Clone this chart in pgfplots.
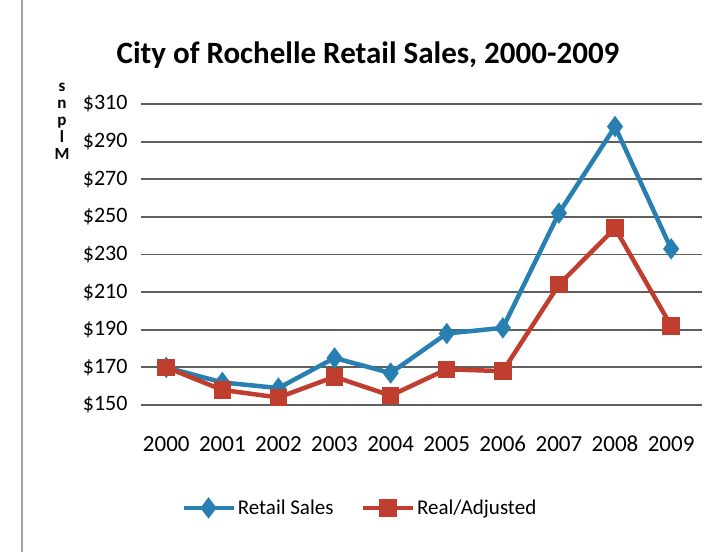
\documentclass[border=0pt]{standalone}
\usepackage{pgfplots}
\pgfplotsset{compat=1.18}
\usepackage{fontspec}
\setmainfont{Carlito}
\definecolor{rsblue}{RGB}{40,128,178}
\definecolor{rsred}{RGB}{192,62,46}
\definecolor{gridc}{RGB}{95,95,95}
\begin{document}
\begin{tikzpicture}
\path[use as bounding box, fill=white] (0,0) rectangle (728bp,552bp);
\draw[gray!70, line width=1.2bp] (22bp,0bp) -- (22bp,552bp);
\node[font=\fontsize{31bp}{34bp}\selectfont\bfseries] at (368bp,497bp) {City of Rochelle Retail Sales, 2000-2009};
\foreach \ch/\yy in {s/460, n/443, p/426, l/409, M/392}
  \node[font=\fontsize{17bp}{17bp}\selectfont\bfseries, inner sep=0pt, anchor=base] at (62bp,\yy bp) {\ch};
\begin{axis}[
  at={(141bp,147bp)}, anchor=south west,
  scale only axis, width=561bp, height=301bp,
  xmin=1999.55, xmax=2009.55, ymin=150, ymax=310,
  axis line style={draw=none},
  xtick={2000,...,2009},
  xticklabels={2000,2001,2002,2003,2004,2005,2006,2007,2008,2009},
  ytick={150,170,...,310},
  yticklabel={\$\pgfmathprintnumber{\tick}},
  /pgf/number format/assume math mode=true,
  typeset ticklabels with strut,
  yticklabel style={font=\fontsize{22bp}{26bp}\selectfont, xshift=-10bp},
  xticklabel style={font=\fontsize{23bp}{27bp}\selectfont, yshift=-24bp},
  tick style={draw=none},
  ymajorgrids,
  grid style={gridc, line width=1.8bp},
  clip=false,
  legend columns=2,
  legend style={at={(0.39,-0.342)}, anchor=center, draw=none, fill=none,
    font=\fontsize{21bp}{24bp}\selectfont,
    /tikz/every even column/.append style={column sep=25bp}},
  legend image code/.code={\draw[#1] (0bp,0bp) -- (50bp,0bp); \draw[#1, mark repeat=1] plot coordinates {(25bp,0bp)};},
]
\addplot[rsblue, line width=4.5bp, mark=diamond*, mark size=7bp, mark options={solid}] coordinates {
(2000,170) (2001,162) (2002,159) (2003,175) (2004,167) (2005,188) (2006,191) (2007,252) (2008,298) (2009,233)};
\addlegendentry{Retail Sales}
\addplot[rsred, line width=4.5bp, mark=square*, mark size=6.5bp, mark options={solid}] coordinates {
(2000,170) (2001,158) (2002,154) (2003,165) (2004,155) (2005,169) (2006,168) (2007,214) (2008,244) (2009,192)};
\addlegendentry{Real/Adjusted}
\end{axis}
\end{tikzpicture}
\end{document}
